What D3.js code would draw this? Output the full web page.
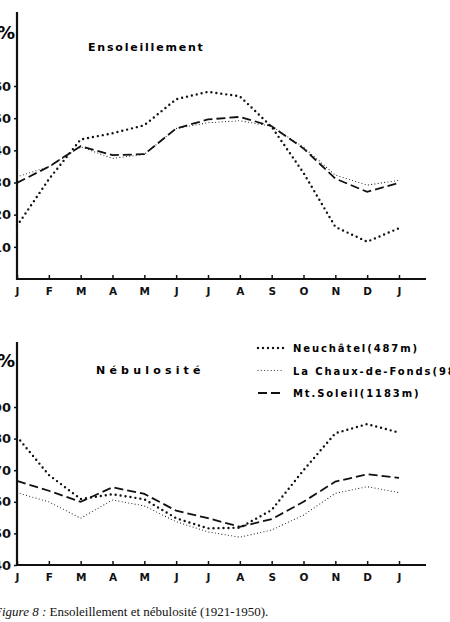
<!DOCTYPE html>
<html>
<head>
<meta charset="utf-8">
<script src="https://cdn.jsdelivr.net/npm/d3@7"></script>
<style>
  body { margin: 0; background: #fff; }
  svg { display: block; }
</style>
</head>
<body>
<svg id="chart"></svg>
<script>
(() => {

  // months, Jan -> Jan
  const months = ['J', 'F', 'M', 'A', 'M', 'J', 'J', 'A', 'S', 'O', 'N', 'D', 'J'];

  // Ensoleillement (%)
  const sunNeuchatel = [16.5, 31, 43.4, 45.3, 47.8, 55.9, 58.2, 56.8, 47.3, 33, 16.2, 11.6, 15.8];
  const sunChaux     = [31.8, 34.9, 41.1, 37.5, 38.8, 46.8, 48.6, 49.2, 47.5, 41, 32.3, 29.2, 30.7];
  const sunSoleil    = [29.9, 34.9, 41.3, 38.5, 38.8, 46.8, 49.6, 50.4, 47.5, 40.6, 31.2, 27.1, 29.9];

  // Nebulosite (%)
  const cloudNeuchatel = [80.6, 68.5, 60.9, 62.4, 60.8, 54.8, 51.6, 51.8, 57.4, 70, 81.7, 84.6, 81.9];
  const cloudChaux     = [62.9, 60, 54.8, 60.6, 58.7, 53.7, 50.5, 48.8, 51.1, 55.8, 62.7, 64.8, 62.9];
  const cloudSoleil    = [66.6, 63.5, 60, 64.6, 62.5, 57.2, 54.8, 52.1, 54.5, 60, 66.4, 68.7, 67.6];

  const sunTicks   = [10, 20, 30, 40, 50, 60];
  const cloudTicks = [40, 50, 60, 70, 80, 90];

  const legendNames = ['Neuchâtel(487m)', 'La Chaux-de-Fonds(989m)', 'Mt.Soleil(1183m)'];

  const width = 450, height = 622;
  const svg = d3.select('#chart').attr('width', width).attr('height', height);

  const styles = [
    { w: 2.4, dash: '0 5', cap: 'round' },
    { w: 1.1, dash: '0 3.3', cap: 'round' },
    { w: 1.8, dash: '9 4', cap: 'butt' }
  ];

  const x = d3.scaleLinear().domain([0, 12]).range([17, 399]);

  function panel(opts) {
    const y = d3.scaleLinear().domain(opts.domain).range(opts.range);
    const g = svg.append('g');

    // y tick labels
    const ya = g.append('g')
      .attr('transform', 'translate(17,0)')
      .call(d3.axisLeft(y).tickValues(opts.ticks).tickSize(3).tickPadding(3));
    ya.select('.domain').remove();
    ya.selectAll('line').attr('stroke', '#111').attr('stroke-width', 1.5);
    ya.selectAll('text')
      .attr('font-family', 'DejaVu Sans, sans-serif')
      .attr('font-weight', 'bold')
      .attr('font-size', 13)
      .attr('fill', '#111');

    // x axis
    const xa = g.append('g')
      .attr('transform', `translate(0,${opts.range[0]})`)
      .call(d3.axisBottom(x).tickValues(d3.range(13)).tickSize(-4).tickPadding(9)
        .tickFormat(i => months[i]));
    xa.select('.domain').remove();
    xa.selectAll('line').attr('stroke', '#111').attr('stroke-width', 1.5);
    xa.selectAll('text')
      .attr('font-family', 'DejaVu Sans, sans-serif')
      .attr('font-weight', 'bold')
      .attr('font-size', 10.5)
      .attr('fill', '#111');

    g.append('line')
      .attr('x1', 17).attr('x2', 17)
      .attr('y1', opts.axisTop).attr('y2', opts.range[0] + 1)
      .attr('stroke', '#111').attr('stroke-width', 2.2);
    g.append('line')
      .attr('x1', 16).attr('x2', 426)
      .attr('y1', opts.range[0]).attr('y2', opts.range[0])
      .attr('stroke', '#111').attr('stroke-width', 2.2);

    g.append('text')
      .attr('x', -3).attr('y', opts.pctY)
      .attr('font-family', 'DejaVu Sans, sans-serif')
      .attr('font-weight', 'bold')
      .attr('font-size', 18)
      .text('%');

    g.append('text')
      .attr('x', opts.titleX).attr('y', opts.titleY)
      .attr('font-family', 'DejaVu Sans, sans-serif')
      .attr('font-weight', 'bold')
      .attr('font-size', 11)
      .attr('letter-spacing', opts.titleSpacing)
      .text(opts.title);

    const line = d3.line().x((d, i) => x(i)).y(d => y(d));
    opts.series.forEach((s, k) => {
      g.append('path')
        .attr('d', line(s))
        .attr('fill', 'none')
        .attr('stroke', '#111')
        .attr('stroke-width', styles[k].w)
        .attr('stroke-dasharray', styles[k].dash)
        .attr('stroke-linecap', styles[k].cap);
    });
  }

  panel({
    domain: [0, 60], range: [279, 86], axisTop: 12, ticks: sunTicks,
    pctY: 39, title: 'Ensoleillement', titleX: 88, titleY: 51, titleSpacing: 1.8,
    series: [sunNeuchatel, sunChaux, sunSoleil]
  });

  panel({
    domain: [40, 90], range: [565, 407], axisTop: 342, ticks: cloudTicks,
    pctY: 367, title: 'Nébulosité', titleX: 96, titleY: 374, titleSpacing: 4.2,
    series: [cloudNeuchatel, cloudChaux, cloudSoleil]
  });

  // legend
  const legend = svg.append('g');
  legendNames.forEach((name, k) => {
    const ly = 348 + k * 22.5;
    legend.append('line')
      .attr('x1', 258).attr('x2', 284)
      .attr('y1', ly).attr('y2', ly)
      .attr('stroke', '#111')
      .attr('stroke-width', styles[k].w)
      .attr('stroke-dasharray', styles[k].dash)
      .attr('stroke-linecap', styles[k].cap);
    legend.append('text')
      .attr('x', 293).attr('y', ly + 4)
      .attr('font-family', 'DejaVu Sans, sans-serif')
      .attr('font-weight', 'bold')
      .attr('font-size', 10)
      .attr('letter-spacing', 1.9)
      .text(name);
  });

  // caption
  const cap = svg.append('text')
    .attr('x', -6).attr('y', 616)
    .attr('font-family', 'Liberation Serif, serif')
    .attr('font-size', 13)
    .attr('fill', '#111');
  cap.append('tspan').attr('font-style', 'italic').text('Figure 8 : ');
  cap.append('tspan').text('Ensoleillement et nébulosité (1921-1950).');

})();
</script>
</body>
</html>
